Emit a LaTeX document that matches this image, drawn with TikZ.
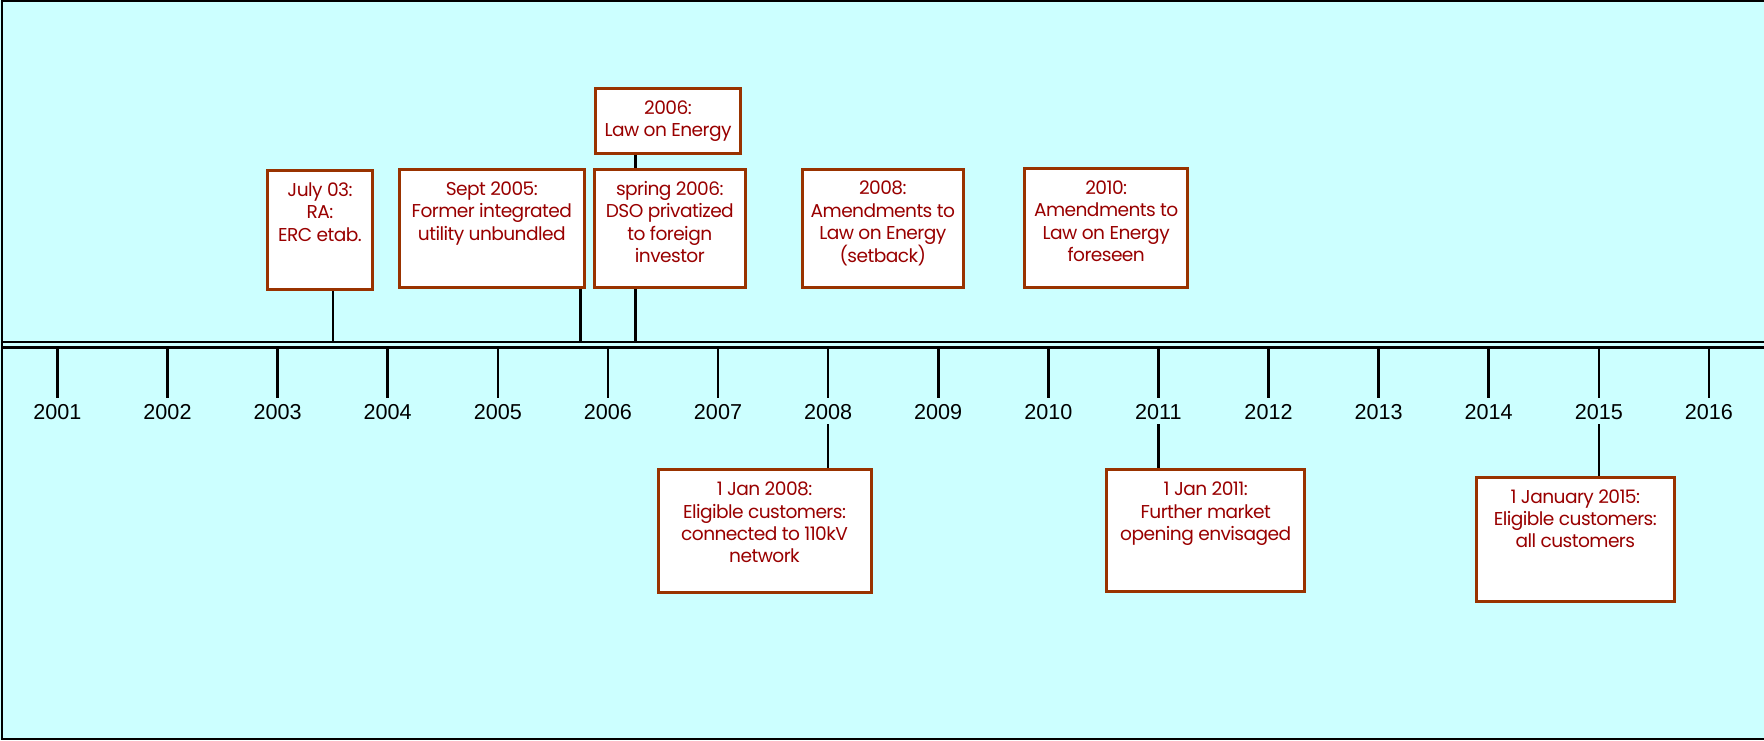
\documentclass[tikz,border=0pt]{standalone}
\usepackage{fontspec}
\setmainfont{Poppins}[LetterSpace=-3]
\newfontfamily\yearfont{Liberation Sans}
\usetikzlibrary{positioning}
\definecolor{bgcyan}{HTML}{CCFFFF}
\definecolor{boxbrown}{HTML}{993300}
\definecolor{txtred}{HTML}{990000}

\begin{document}
\begin{tikzpicture}[x=0.5pt,y=-0.5pt,
	evbox/.style={draw=boxbrown,line width=1.5pt,fill=white,inner sep=0pt},
	evtext/.style={text=txtred,font=\fontsize{9.3}{11.2}\selectfont,align=center,inner sep=0pt,anchor=north,yshift=-6.6pt},
	yearlabel/.style={font=\yearfont\fontsize{10.8}{12}\selectfont,text height=7.7pt,text depth=0pt,inner xsep=0pt,inner ysep=2.5pt},
	yeartick/.style={line width=1.3pt},
	evlink/.style={line width=1.1pt}]

	% Background
	\useasboundingbox (0,0) rectangle (1764,740);
	\fill[bgcyan] (0,0) rectangle (1764,740);
	\draw[line width=1pt] (1764,1) -- (1.5,1) -- (1.5,738.5) -- (1764,738.5);

	% Timeline
	\draw[line width=0.65pt] (1.5,342) -- (1764,342);
	\draw[line width=1.5pt] (1.5,347) -- (1764,347);
	\foreach \i in {0,...,15}{
		\pgfmathtruncatemacro\yr{2001+\i}
		\coordinate (t\yr) at ({57.4+110.1*\i},348);
		\node[yearlabel] (l\yr) at ({57.4+110.1*\i},411.3) {\yr};
		\draw[yeartick] (t\yr) -- (l\yr.north);
	}

	% Boxes above
	\node[evbox,minimum width=52.5pt,minimum height=59.5pt] (raBox) at (320,230) {};
	\node[evtext] (raTxt) at (raBox.north) {July 03:\\RA:\\ERC etab.};
	\node[evbox,minimum width=92.25pt,minimum height=59pt] (sepBox) at (491.8,228.5) {};
	\node[evtext] (sepTxt) at (sepBox.north) {Sept 2005:\\Former integrated\\utility unbundled};
	\node[evbox,minimum width=72.5pt,minimum height=32.65pt] (lawBox) at (668,120.9) {};
	\node[evtext] (lawTxt) at (lawBox.north) {2006:\\Law on Energy};
	\node[evbox,minimum width=75.5pt,minimum height=59.3pt] (sprBox) at (669.8,228.5) {};
	\node[evtext] (sprTxt) at (sprBox.north) {spring 2006:\\DSO privatized\\to foreign\\investor};
	\node[evbox,minimum width=80.7pt,minimum height=59.3pt] (amdABox) at (882.8,228.5) {};
	\node[evtext] (amdATxt) at (amdABox.north) {2008:\\Amendments to\\Law on Energy\\(setback)};
	\node[evbox,minimum width=81.3pt,minimum height=59.5pt] (amdBBox) at (1106.2,228.3) {};
	\node[evtext] (amdBTxt) at (amdBBox.north) {2010:\\Amendments to\\Law on Energy\\foreseen};

	% Boxes below
	\node[evbox,minimum width=106.5pt,minimum height=61.35pt] (janABox) at (764.5,531.2) {};
	\node[evtext] (janATxt) at (janABox.north) {1 Jan 2008:\\Eligible customers:\\connected to 110kV\\network};
	\node[evbox,minimum width=98.85pt,minimum height=60.7pt] (janBBox) at (1205.7,530.5) {};
	\node[evtext] (janBTxt) at (janBBox.north) {1 Jan 2011:\\Further market\\opening envisaged};
	\node[evbox,minimum width=98.85pt,minimum height=62pt] (janCBox) at (1575.3,539.2) {};
	\node[evtext] (janCTxt) at (janCBox.north) {1 January 2015:\\Eligible customers:\\all customers};

	%link
	\coordinate (dRA) at (332.7,342);
	\coordinate (dSep) at (580.4,342);
	\coordinate (dSpr) at (635.4,342);
	\draw[evlink] (dRA |- raBox.south) -- (dRA);
	\draw[evlink] (dSep |- sepBox.south) -- (dSep);
	\draw[evlink] (dSpr |- lawBox.south) -- (dSpr |- sprBox.north);
	\draw[evlink] (dSpr |- sprBox.south) -- (dSpr);
	\draw[evlink] (l2008.south) -- (l2008.south |- janABox.north);
	\draw[evlink] (l2011.south) -- (l2011.south |- janBBox.north);
	\draw[evlink] (l2015.south) -- (l2015.south |- janCBox.north);

\end{tikzpicture}
\end{document}
